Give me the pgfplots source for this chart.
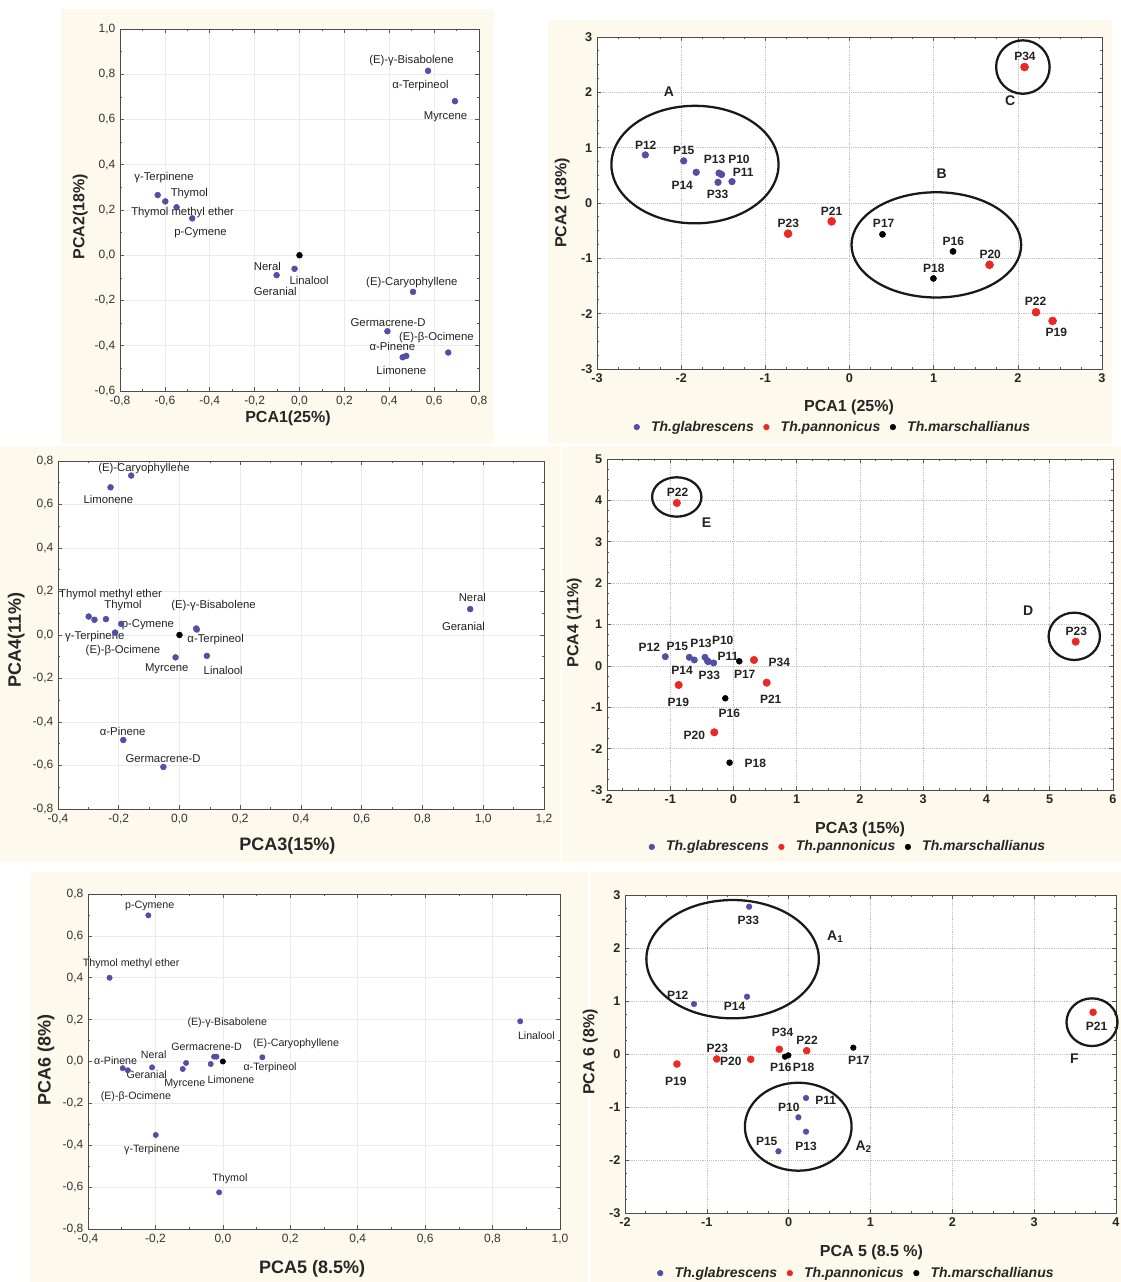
\documentclass[border=0pt]{standalone}
\usepackage{fontspec}
\setmainfont{Liberation Sans}
\usepackage{pgfplots}
\pgfplotsset{compat=1.18}
\definecolor{glab}{RGB}{82,80,165}
\definecolor{pann}{RGB}{234,40,36}
\definecolor{bgc}{RGB}{253,249,236}
\definecolor{txt}{RGB}{35,35,35}
\pgfplotsset{
  pcab/.style={scale only axis, anchor=north west, clip=false,
    axis background/.style={fill=white},
    tick align=inside, major tick length=3pt, minor tick length=1.8pt,
    axis line style={black!70, line width=0.7pt},
    every tick/.style={black!65, line width=0.5pt},
    /pgf/number format/assume math mode=true},
  loadings/.style={pcab, minor tick num=1, grid=major,
    major grid style={black!8, line width=0.4pt},
    tick label style={font=\fontsize{9}{10}\selectfont, text=black!80},
    /pgf/number format/use comma, /pgf/number format/fixed,
    /pgf/number format/fixed zerofill, /pgf/number format/precision=1},
  scores/.style={pcab, minor tick num=3, grid=major,
    major grid style={black!25, densely dotted, line width=0.4pt},
    tick label style={font=\bfseries\fontsize{9.5}{11}\selectfont, text=black!85},
    label style={font=\bfseries\fontsize{12}{14}\selectfont, text=black!85},
    legend columns=3,
    legend style={draw=none, fill=none, anchor=center,
      font=\bfseries\itshape\fontsize{10.5}{12}\selectfont, text=black!85,
      /tikz/every even column/.append style={column sep=3pt}},
    legend image code/.code={%
      \path (0cm,0cm) (0.45cm,0cm);
      \draw[#1, mark size=2.1pt] plot coordinates {(0.15cm,0cm)};}},
}
\tikzset{
  lab/.style={font=\fontsize{8.5}{9}\selectfont, inner sep=0pt, text=txt},
  labs/.style={font=\fontsize{8}{9}\selectfont, inner sep=0pt, text=txt},
  plab/.style={font=\bfseries\fontsize{9}{10}\selectfont, inner sep=0pt, text=txt},
  glet/.style={font=\bfseries\fontsize{10.5}{12}\selectfont, inner sep=0pt, text=txt},
  ell/.style={line width=1.7pt, black!90},
}
\begin{document}
\begin{tikzpicture}
\path[use as bounding box] (0,0) rectangle (840.75pt,961.5pt);
% panel backgrounds
\fill[bgc] (45.75pt,629.25pt) rectangle (370.5pt,954.75pt);
\fill[bgc] (411pt,629.25pt) rectangle (834pt,946.5pt);
\fill[bgc] (0pt,315pt) rectangle (420pt,627pt);
\fill[bgc] (421.5pt,315pt) rectangle (840.75pt,627pt);
\fill[bgc] (22.5pt,0pt) rectangle (441pt,307.5pt);
\fill[bgc] (442.5pt,0pt) rectangle (840.75pt,307.5pt);

% ===== Panel 1: loadings PCA1 vs PCA2 =====
\begin{axis}[loadings, at={(90pt,939.75pt)}, width=269.25pt, height=271.5pt,
  xmin=-0.8, xmax=0.8, ymin=-0.6, ymax=1.0,
  xtick={-0.8,-0.6,-0.4,-0.2,0,0.2,0.4,0.6,0.8},
  ytick={-0.6,-0.4,-0.2,0,0.2,0.4,0.6,0.8,1.0},
  xlabel={PCA1(25\%)}, ylabel={PCA2(18\%)},
  label style={font=\bfseries\fontsize{12}{14}\selectfont, text=black!85},
  xlabel style={at={(0.468,-0.075)}, anchor=center},
  ylabel style={at={(-0.111,0.481)}, anchor=center}]
\addplot[only marks, mark=*, mark size=2.2pt, color=glab] coordinates {
 (0.573,0.815) (0.693,0.681) (-0.632,0.266) (-0.598,0.238) (-0.548,0.212)
 (-0.478,0.163) (-0.102,-0.088) (-0.022,-0.060) (0.506,-0.162) (0.392,-0.336)
 (0.460,-0.451) (0.476,-0.445) (0.663,-0.430)};
\addplot[only marks, mark=*, mark size=2.2pt, color=black] coordinates {(0,0)};
\node[lab] at (axis cs:0.499,0.860) {(E)-γ-Bisabolene};
\node[lab] at (axis cs:0.539,0.749) {α-Terpineol};
\node[lab] at (axis cs:0.651,0.613) {Myrcene};
\node[lab] at (axis cs:-0.604,0.345) {γ-Terpinene};
\node[lab] at (axis cs:-0.491,0.274) {Thymol};
\node[lab] at (axis cs:-0.521,0.188) {Thymol methyl ether};
\node[lab] at (axis cs:-0.441,0.101) {p-Cymene};
\node[lab] at (axis cs:-0.143,-0.051) {Neral};
\node[lab] at (axis cs:0.043,-0.110) {Linalool};
\node[lab] at (axis cs:-0.108,-0.162) {Geranial};
\node[lab] at (axis cs:0.501,-0.122) {(E)-Caryophyllene};
\node[lab] at (axis cs:0.395,-0.296) {Germacrene-D};
\node[lab] at (axis cs:0.610,-0.364) {(E)-β-Ocimene};
\node[lab] at (axis cs:0.414,-0.405) {α-Pinene};
\node[lab] at (axis cs:0.454,-0.511) {Limonene};
\end{axis}

% ===== Panel 2: scores PCA1 vs PCA2 =====
\begin{axis}[scores, at={(447.75pt,933.75pt)}, width=378.75pt, height=249pt,
  xmin=-3, xmax=3, ymin=-3, ymax=3,
  xtick={-3,-2,-1,0,1,2,3}, ytick={-3,-2,-1,0,1,2,3},
  xlabel={PCA1 (25\%)}, ylabel={PCA2 (18\%)},
  xlabel style={at={(0.499,-0.117)}, anchor=center},
  ylabel style={at={(-0.069,0.5)}, anchor=center},
  legend style={at={(0.465,-0.175)}}]
\addplot[only marks, mark=*, mark size=2.5pt, color=glab] coordinates {
 (-2.426,0.869) (-1.970,0.761) (-1.821,0.555) (-1.550,0.540) (-1.520,0.515)
 (-1.562,0.374) (-1.396,0.386)};
\addlegendentry{Th.glabrescens}
\addplot[only marks, mark=*, mark size=3pt, color=pann] coordinates {
 (-0.730,-0.555) (-0.212,-0.332) (1.664,-1.117) (2.216,-1.974) (2.413,-2.131) (2.080,2.457)};
\addlegendentry{Th.pannonicus}
\addplot[only marks, mark=*, mark size=2.3pt, color=black] coordinates {
 (0.392,-0.567) (1.230,-0.875) (0.997,-1.364)};
\addlegendentry{Th.marschallianus}
\draw[ell] (axis cs:-1.836,0.694) ellipse [x radius=0.993, y radius=1.062];
\draw[ell] (axis cs:1.032,-0.757) ellipse [x radius=1.008, y radius=0.951];
\draw[ell] (axis cs:2.060,2.457) ellipse [x radius=0.318, y radius=0.483];
\node[plab] at (axis cs:-2.421,1.038) {P12};
\node[plab] at (axis cs:-1.970,0.948) {P15};
\node[plab] at (axis cs:-1.602,0.797) {P13};
\node[plab] at (axis cs:-1.313,0.797) {P10};
\node[plab] at (axis cs:-1.264,0.555) {P11};
\node[plab] at (axis cs:-1.988,0.314) {P14};
\node[plab] at (axis cs:-1.567,0.151) {P33};
\node[plab] at (axis cs:-0.726,-0.368) {P23};
\node[plab] at (axis cs:-0.212,-0.151) {P21};
\node[plab] at (axis cs:0.406,-0.374) {P17};
\node[plab] at (axis cs:1.234,-0.694) {P16};
\node[plab] at (axis cs:1.002,-1.183) {P18};
\node[plab] at (axis cs:1.672,-0.929) {P20};
\node[plab] at (axis cs:2.211,-1.774) {P22};
\node[plab] at (axis cs:2.457,-2.342) {P19};
\node[plab] at (axis cs:2.085,2.650) {P34};
\node[glet] at (axis cs:-2.145,2.016) {A};
\node[glet] at (axis cs:1.094,0.525) {B};
\node[glet] at (axis cs:1.909,1.847) {C};
\end{axis}

% ===== Panel 3: loadings PCA3 vs PCA4 =====
\begin{axis}[loadings, at={(43.5pt,615.75pt)}, width=364.5pt, height=261pt,
  xmin=-0.4, xmax=1.2, ymin=-0.8, ymax=0.8,
  xtick={-0.4,-0.2,0,0.2,0.4,0.6,0.8,1.0,1.2},
  ytick={-0.8,-0.6,-0.4,-0.2,0,0.2,0.4,0.6,0.8},
  xlabel={PCA3(15\%)}, ylabel={PCA4(11\%)},
  label style={font=\bfseries\fontsize{13.5}{15}\selectfont, text=black!85},
  xlabel style={at={(0.472,-0.106)}, anchor=center},
  ylabel style={at={(-0.086,0.486)}, anchor=center}]
\addplot[only marks, mark=*, mark size=2.2pt, color=glab] coordinates {
 (-0.159,0.733) (-0.227,0.679) (-0.299,0.085) (-0.280,0.070) (-0.242,0.073)
 (-0.192,0.051) (-0.212,0.011) (0.057,0.025) (0.055,0.030) (-0.013,-0.103)
 (0.090,-0.096) (0.957,0.119) (-0.185,-0.483) (-0.053,-0.607)};
\addplot[only marks, mark=*, mark size=2.2pt, color=black] coordinates {(0,0)};
\node[lab] at (axis cs:-0.117,0.765) {(E)-Caryophyllene};
\node[lab] at (axis cs:-0.234,0.622) {Limonene};
\node[lab] at (axis cs:-0.227,0.185) {Thymol methyl ether};
\node[lab] at (axis cs:-0.186,0.134) {Thymol};
\node[lab] at (axis cs:0.112,0.134) {(E)-γ-Bisabolene};
\node[lab] at (axis cs:-0.104,0.045) {p-Cymene};
\node[lab] at (axis cs:-0.279,-0.005) {γ-Terpinene};
\node[lab] at (axis cs:0.119,-0.021) {α-Terpineol};
\node[lab] at (axis cs:-0.186,-0.071) {(E)-β-Ocimene};
\node[lab] at (axis cs:-0.042,-0.155) {Myrcene};
\node[lab] at (axis cs:0.144,-0.162) {Linalool};
\node[lab] at (axis cs:0.964,0.174) {Neral};
\node[lab] at (axis cs:0.935,0.038) {Geranial};
\node[lab] at (axis cs:-0.187,-0.442) {α-Pinene};
\node[lab] at (axis cs:-0.054,-0.567) {Germacrene-D};
\end{axis}

% ===== Panel 4: scores PCA3 vs PCA4 =====
\begin{axis}[scores, at={(455.25pt,617.25pt)}, width=379.5pt, height=248.25pt,
  xmin=-2, xmax=6, ymin=-3, ymax=5,
  xtick={-2,-1,0,1,2,3,4,5,6}, ytick={-3,-2,-1,0,1,2,3,4,5},
  xlabel={PCA3 (15\%)}, ylabel={PCA4 (11\%)},
  xlabel style={at={(0.5,-0.118)}, anchor=center},
  ylabel style={at={(-0.065,0.505)}, anchor=center},
  legend style={at={(0.474,-0.172)}}]
\addplot[only marks, mark=*, mark size=2.4pt, color=glab] coordinates {
 (-1.078,0.222) (-0.699,0.207) (-0.620,0.142) (-0.451,0.207) (-0.414,0.125)
 (-0.400,0.100) (-0.313,0.070)};
\addlegendentry{Th.glabrescens}
\addplot[only marks, mark=*, mark size=2.8pt, color=pann] coordinates {
 (-0.896,3.937) (5.410,0.585) (0.324,0.142) (0.525,-0.406) (-0.867,-0.462) (-0.304,-1.606)};
\addlegendentry{Th.pannonicus}
\addplot[only marks, mark=*, mark size=2.2pt, color=black] coordinates {
 (0.092,0.110) (-0.130,-0.784) (-0.062,-2.340)};
\addlegendentry{Th.marschallianus}
\draw[ell] (axis cs:-0.897,4.082) ellipse [x radius=0.390, y radius=0.476];
\draw[ell] (axis cs:5.388,0.714) ellipse [x radius=0.406, y radius=0.572];
\node[plab] at (axis cs:-0.885,4.195) {P22};
\node[glet] at (axis cs:-0.428,3.461) {E};
\node[glet] at (axis cs:4.659,1.334) {D};
\node[plab] at (axis cs:5.421,0.843) {P23};
\node[plab] at (axis cs:-1.331,0.449) {P12};
\node[plab] at (axis cs:-0.889,0.464) {P15};
\node[plab] at (axis cs:-0.514,0.545) {P13};
\node[plab] at (axis cs:-0.171,0.625) {P10};
\node[plab] at (axis cs:-0.087,0.239) {P11};
\node[plab] at (axis cs:-0.814,-0.100) {P14};
\node[plab] at (axis cs:-0.383,-0.221) {P33};
\node[plab] at (axis cs:0.177,-0.196) {P17};
\node[plab] at (axis cs:0.724,0.077) {P34};
\node[plab] at (axis cs:-0.873,-0.890) {P19};
\node[plab] at (axis cs:0.588,-0.807) {P21};
\node[plab] at (axis cs:-0.067,-1.155) {P16};
\node[plab] at (axis cs:-0.620,-1.671) {P20};
\node[plab] at (axis cs:0.346,-2.355) {P18};
\end{axis}

% ===== Panel 5: loadings PCA5 vs PCA6 =====
\begin{axis}[loadings, at={(66pt,291pt)}, width=354pt, height=251.25pt,
  xmin=-0.4, xmax=1.0, ymin=-0.8, ymax=0.8,
  xtick={-0.4,-0.2,0,0.2,0.4,0.6,0.8,1.0},
  ytick={-0.8,-0.6,-0.4,-0.2,0,0.2,0.4,0.6,0.8},
  xlabel={PCA5 (8.5\%)}, ylabel={PCA6 (8\%)},
  label style={font=\bfseries\fontsize{13.5}{15}\selectfont, text=black!85},
  xlabel style={at={(0.475,-0.119)}, anchor=center},
  ylabel style={at={(-0.089,0.504)}, anchor=center}]
\addplot[only marks, mark=*, mark size=2pt, color=glab] coordinates {
 (-0.221,0.698) (-0.336,0.400) (0.882,0.192) (-0.297,-0.032) (-0.282,-0.042)
 (-0.210,-0.028) (-0.109,-0.007) (-0.119,-0.036) (-0.026,0.023) (-0.019,0.023)
 (-0.036,-0.012) (0.117,0.020) (-0.199,-0.351) (-0.011,-0.625)};
\addplot[only marks, mark=*, mark size=2pt, color=black] coordinates {(0,0)};
\node[labs] at (axis cs:-0.217,0.743) {p-Cymene};
\node[labs] at (axis cs:-0.272,0.469) {Thymol methyl ether};
\node[labs] at (axis cs:0.930,0.123) {Linalool};
\node[labs] at (axis cs:0.013,0.183) {(E)-γ-Bisabolene};
\node[labs] at (axis cs:-0.048,0.071) {Germacrene-D};
\node[labs] at (axis cs:0.217,0.084) {(E)-Caryophyllene};
\node[labs] at (axis cs:-0.205,0.031) {Neral};
\node[labs] at (axis cs:-0.318,0.004) {α-Pinene};
\node[labs] at (axis cs:-0.226,-0.063) {Geranial};
\node[labs] at (axis cs:-0.113,-0.105) {Myrcene};
\node[labs] at (axis cs:0.024,-0.085) {Limonene};
\node[labs] at (axis cs:0.140,-0.029) {α-Terpineol};
\node[labs] at (axis cs:-0.258,-0.168) {(E)-β-Ocimene};
\node[labs] at (axis cs:-0.210,-0.423) {γ-Terpinene};
\node[labs] at (axis cs:0.021,-0.562) {Thymol};
\end{axis}

% ===== Panel 6: scores PCA5 vs PCA6 =====
\begin{axis}[scores, at={(468.75pt,290.25pt)}, width=368.25pt, height=238.5pt,
  xmin=-2, xmax=4, ymin=-3, ymax=3,
  xtick={-2,-1,0,1,2,3,4}, ytick={-3,-2,-1,0,1,2,3},
  xlabel={PCA 5 (8.5 \%)}, ylabel={PCA 6 (8\%)},
  xlabel style={at={(0.502,-0.125)}, anchor=center},
  ylabel style={at={(-0.071,0.506)}, anchor=center},
  legend style={at={(0.469,-0.189)}}]
\addplot[only marks, mark=*, mark size=2.1pt, color=glab] coordinates {
 (-0.483,2.779) (-1.157,0.943) (-0.509,1.081) (0.212,-0.830) (0.119,-1.195)
 (0.212,-1.465) (-0.125,-1.836)};
\addlegendentry{Th.glabrescens}
\addplot[only marks, mark=*, mark size=2.6pt, color=pann] coordinates {
 (-0.114,0.089) (0.220,0.062) (-0.879,-0.094) (-0.464,-0.100) (-1.365,-0.189) (3.720,0.787)};
\addlegendentry{Th.pannonicus}
\addplot[only marks, mark=*, mark size=2.1pt, color=black] coordinates {
 (-0.045,-0.051) (-0.004,-0.025) (0.790,0.119)};
\addlegendentry{Th.marschallianus}
\draw[ell] (axis cs:-0.685,1.789) ellipse [x radius=1.054, y radius=1.116];
\draw[ell] (axis cs:0.117,-1.372) ellipse [x radius=0.652, y radius=0.830];
\draw[ell] (axis cs:3.707,0.600) ellipse [x radius=0.312, y radius=0.450];
\node[plab] at (axis cs:-0.492,2.528) {P33};
\node[glet] at (axis cs:0.570,2.214) {A\textsubscript{1}};
\node[plab] at (axis cs:-1.356,1.100) {P12};
\node[plab] at (axis cs:-0.661,0.906) {P14};
\node[plab] at (axis cs:-0.074,0.402) {P34};
\node[plab] at (axis cs:0.224,0.258) {P22};
\node[plab] at (axis cs:-0.872,0.100) {P23};
\node[plab] at (axis cs:-0.707,-0.145) {P20};
\node[plab] at (axis cs:-0.096,-0.258) {P16};
\node[plab] at (axis cs:0.183,-0.258) {P18};
\node[plab] at (axis cs:0.857,-0.126) {P17};
\node[plab] at (axis cs:-1.378,-0.509) {P19};
\node[plab] at (axis cs:3.763,0.515) {P21};
\node[glet] at (axis cs:3.493,-0.083) {F};
\node[plab] at (axis cs:0.453,-0.868) {P11};
\node[plab] at (axis cs:0.001,-1.013) {P10};
\node[plab] at (axis cs:-0.268,-1.642) {P15};
\node[plab] at (axis cs:0.212,-1.736) {P13};
\node[glet] at (axis cs:0.916,-1.749) {A\textsubscript{2}};
\end{axis}
\end{tikzpicture}
\end{document}
